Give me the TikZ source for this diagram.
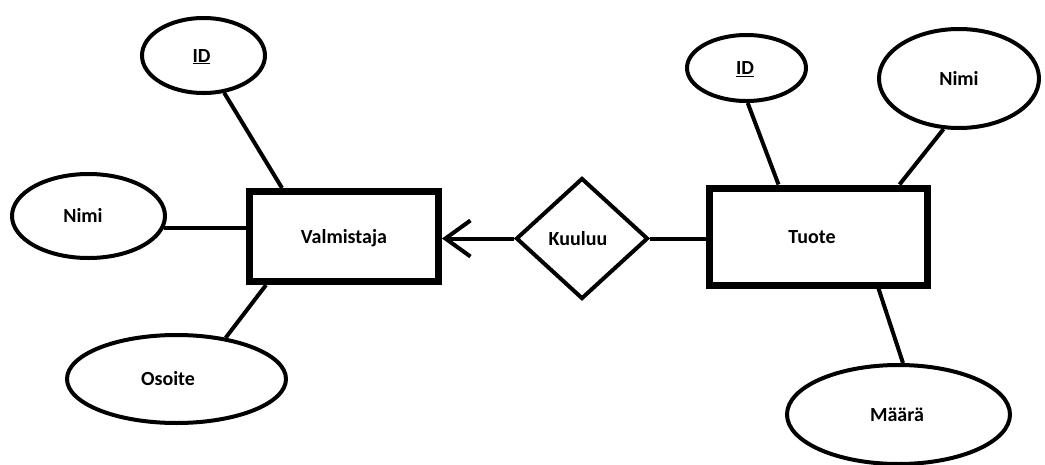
\documentclass[tikz,border=0pt]{standalone}
\usepackage{fontspec}
\setmainfont{Carlito}
\usetikzlibrary{shapes.geometric,arrows.meta}

\tikzset{
  label text/.style={font=\fontsize{20}{24}\selectfont\bfseries, text height=13pt, text depth=0pt, inner sep=0pt},
  entity/.style={draw, line width=7pt, fill=white, rectangle, label text},
  attribute/.style={draw, line width=4pt, fill=white, ellipse, label text},
  relation/.style={draw, line width=4pt, fill=white, diamond, label text},
  link/.style={line width=4pt},
}

\begin{document}
\begin{tikzpicture}[x=1pt, y=-1pt]
  \fill[white] (0,0) rectangle (1045,464);
  \useasboundingbox (0,0) rectangle (1045,464);

  % entities
  \node[entity, minimum width=189pt, minimum height=90pt] (valm) at (344,236.5) {Valmistaja};
  \node[entity, minimum width=218pt, minimum height=97pt] (tuote) at (818,236.5) {Tuote\kern12pt};

  % relationship
  \node[relation, minimum width=132pt, minimum height=121pt] (kuul) at (582,238.5) {Kuuluu\kern8pt};

  % attributes of Valmistaja
  \node[attribute, minimum width=123pt, minimum height=75pt] (idL) at (203.5,55.5) {\underline{ID}\kern4pt};
  \node[attribute, minimum width=153pt, minimum height=84pt] (nimiL) at (88.5,216) {Nimi\kern11pt};
  \node[attribute, minimum width=219pt, minimum height=88pt] (os) at (176.5,379) {Osoite\kern17pt};

  % attributes of Tuote
  \node[attribute, minimum width=119pt, minimum height=66pt] (idR) at (746.5,68) {\underline{ID}\kern3pt};
  \node[attribute, minimum width=160pt, minimum height=99pt] (nimiR) at (959,78.5) {Nimi};
  \node[attribute, minimum width=223pt, minimum height=99pt] (maara) at (898.5,414.5) {Määrä\kern3pt};

  % connectors
  \draw[link] (idL.-61) -- ([xshift=36pt]valm.north west);
  \draw[link] (nimiL.-9) -- (nimiL.-9 -| valm.west);
  \draw[link] (os.40) -- ([xshift=20pt]valm.south west);

  \draw[link, -{Straight Barb[length=25pt, width=36pt]}] (kuul.west) -- (kuul.west -| valm.east);
  \draw[link] (kuul.east) -- (kuul.east -| tuote.west);

  \draw[link] (idR.-88) -- ([xshift=73pt]tuote.north west);
  \draw[link] (nimiR.-107) -- ([xshift=194pt]tuote.north west);
  \draw[link] (maara.85) -- ([xshift=173pt]tuote.south west);
\end{tikzpicture}
\end{document}
